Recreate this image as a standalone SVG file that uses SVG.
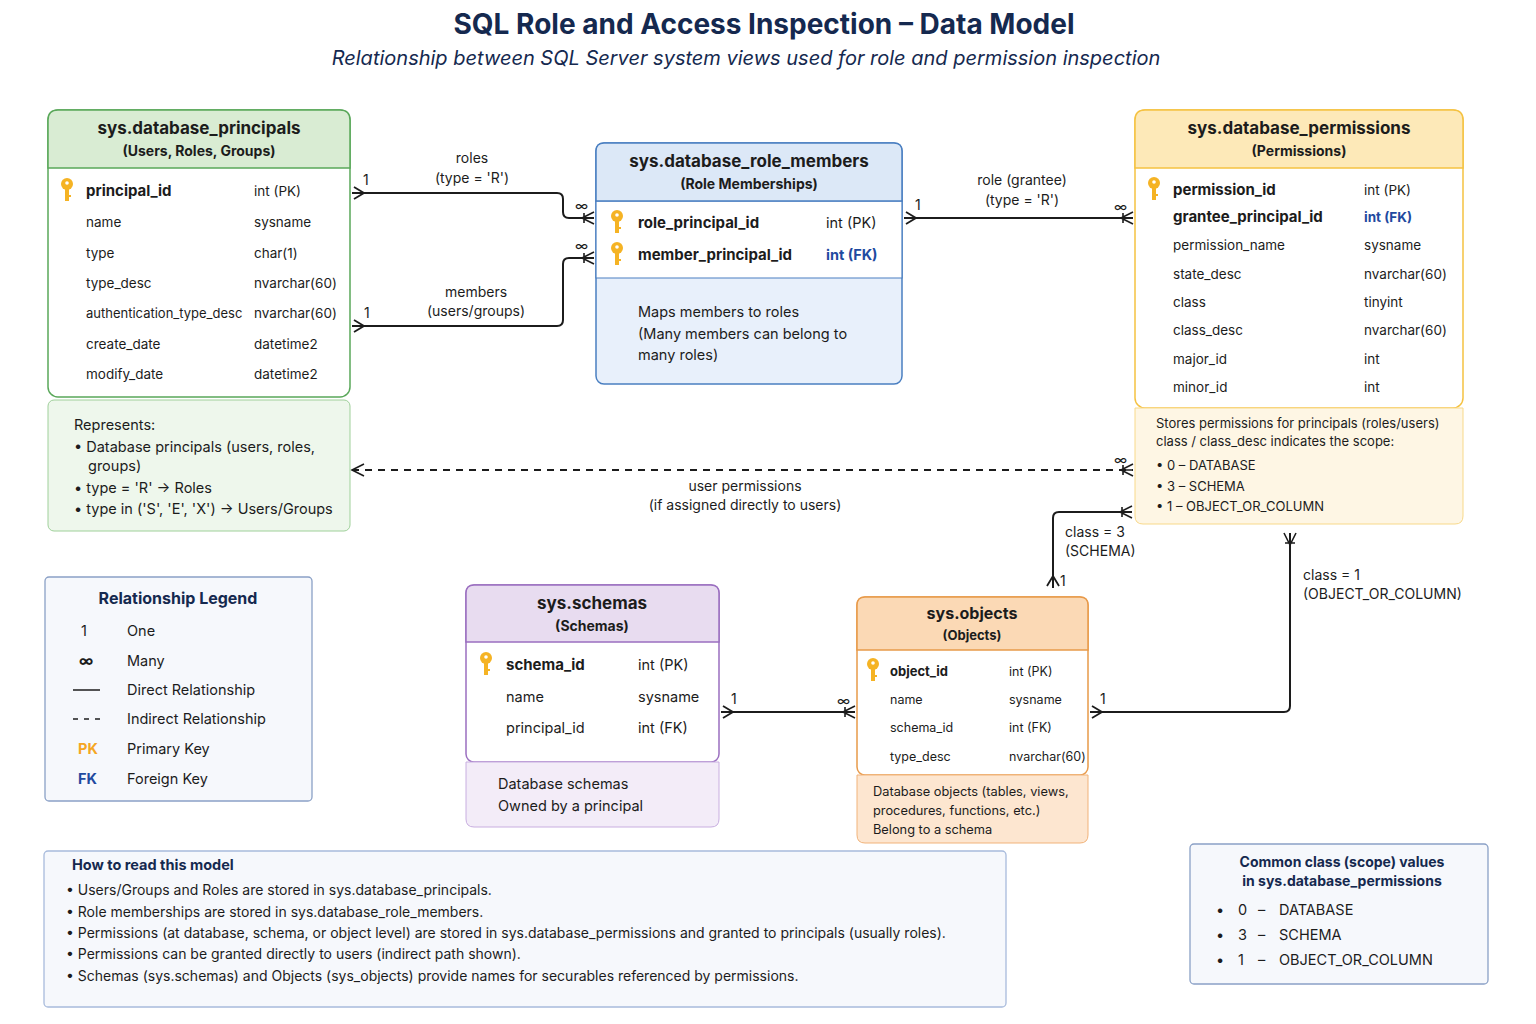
<svg xmlns="http://www.w3.org/2000/svg" xmlns:xlink="http://www.w3.org/1999/xlink" width="1536" height="1024" viewBox="0 0 1536 1024">
<style>
text{font-family:"Inter","Noto Sans","Liberation Sans",sans-serif;fill:#1c1c1c}
.t{font-size:28px;font-weight:700;fill:#15294f}
.st{font-size:20px;font-style:italic;fill:#15294f}
.h{font-size:17px;font-weight:700}
.hs{font-size:14px;font-weight:700}
.f{font-size:13.5px}
.fb{font-size:15px;font-weight:700}
.n{font-size:14.5px}
.lb{font-size:14px}
.fk{fill:#1f4aa0;font-weight:700}
.c{fill:none;stroke:#1c1c1c;stroke-width:2}
.d{fill:none;stroke:#1c1c1c;stroke-width:1.8;stroke-dasharray:7 6}
</style>
<defs>
<g id="key"><circle cx="0" cy="-5" r="6" fill="#f5b324"/><rect x="-2" y="-1" width="4" height="13" fill="#f5b324"/><rect x="0" y="6" width="4" height="2" fill="#f5b324"/><circle cx="0" cy="-6" r="1.8" fill="#fff"/></g>
<marker id="many" markerWidth="18" markerHeight="16" refX="14" refY="8" orient="auto" markerUnits="userSpaceOnUse"><path d="M2 8 L14 2 M2 8 L14 14 M2 8 H14 M4 3 V13" fill="none" stroke="#1c1c1c" stroke-width="1.6"/></marker>
<marker id="one" markerWidth="14" markerHeight="14" refX="12" refY="7" orient="auto" markerUnits="userSpaceOnUse"><path d="M2 1 L12 7 L2 13" fill="none" stroke="#1c1c1c" stroke-width="1.8"/></marker>
<marker id="fwd" markerWidth="16" markerHeight="14" refX="0" refY="7" orient="auto" markerUnits="userSpaceOnUse"><path d="M2 1 L12 7 L2 13" fill="none" stroke="#1c1c1c" stroke-width="1.8"/></marker>
</defs>
<rect width="1536" height="1024" fill="#fff"/>
<text class="t" x="764" y="34" text-anchor="middle">SQL Role and Access Inspection – Data Model</text>
<text class="st" x="746" y="65" text-anchor="middle">Relationship between SQL Server system views used for role and permission inspection</text>

<g id="connectors">
<path class="c" d="M352 193 H557 Q563 193 563 199 V212 Q563 218 569 218 H594" marker-start="url(#fwd)" marker-end="url(#many)"/>
<path class="c" d="M352 326 H557 Q563 326 563 320 V264 Q563 258 569 258 H594" marker-start="url(#fwd)" marker-end="url(#many)"/>
<path class="c" d="M904 218 H1133" marker-start="url(#fwd)" marker-end="url(#many)"/>
<path class="d" d="M352 470 H1133" marker-end="url(#many)"/>
<path d="M364 464 L352 470 L364 476" fill="none" stroke="#1c1c1c" stroke-width="1.6"/>
<path class="c" d="M1053 588 V518 Q1053 512 1059 512 H1132" marker-start="url(#fwd)" marker-end="url(#many)"/>
<path class="c" d="M721 712 H855" marker-start="url(#fwd)" marker-end="url(#many)"/>
<path class="c" d="M1090 712 H1284 Q1290 712 1290 706 V533" marker-start="url(#fwd)" marker-end="url(#many)"/>
<text class="lb" x="363" y="185">1</text><text class="lb" x="472" y="163" text-anchor="middle">roles</text><text class="lb" x="472" y="183" text-anchor="middle">(type = 'R')</text>
<text class="lb" x="575" y="211">∞</text><text class="lb" x="575" y="251">∞</text>
<text class="lb" x="364" y="318">1</text><text class="lb" x="476" y="297" text-anchor="middle">members</text><text class="lb" x="476" y="316" text-anchor="middle">(users/groups)</text>
<text class="lb" x="915" y="210">1</text><text class="lb" x="1022" y="185" text-anchor="middle">role (grantee)</text><text class="lb" x="1022" y="205" text-anchor="middle">(type = 'R')</text><text class="lb" x="1114" y="212">∞</text>
<text class="lb" x="1114" y="465">∞</text>
<text class="lb" x="745" y="491" text-anchor="middle">user permissions</text><text class="lb" x="745" y="510" text-anchor="middle">(if assigned directly to users)</text>
<text class="lb" x="1065" y="537">class = 3</text><text class="lb" x="1065" y="556">(SCHEMA)</text><text class="lb" x="1060" y="586">1</text>
<text class="lb" x="1303" y="580">class = 1</text><text class="lb" x="1303" y="599">(OBJECT_OR_COLUMN)</text>
<text class="lb" x="731" y="704">1</text><text class="lb" x="837" y="706">∞</text><text class="lb" x="1100" y="704">1</text>
</g>

<g id="principals">
<rect x="48" y="110" width="302" height="287" rx="10" fill="#fff" stroke="#5aa85a" stroke-width="1.5"/>
<path d="M48 168 V120 Q48 110 58 110 H340 Q350 110 350 120 V168 Z" fill="#d9ecd3" stroke="#5aa85a" stroke-width="1.5"/>
<text class="h" x="199" y="134" text-anchor="middle">sys.database_principals</text>
<text class="hs" x="199" y="156" text-anchor="middle">(Users, Roles, Groups)</text>
<use xlink:href="#key" x="67" y="189"/>
<text class="fb" x="86" y="196">principal_id</text><text class="f" x="254" y="196">int (PK)</text>
<text class="f" x="86" y="227">name</text><text class="f" x="254" y="227">sysname</text>
<text class="f" x="86" y="258">type</text><text class="f" x="254" y="258">char(1)</text>
<text class="f" x="86" y="288">type_desc</text><text class="f" x="254" y="288">nvarchar(60)</text>
<text class="f" x="86" y="318" style="font-size:13px">authentication_type_desc</text><text class="f" x="254" y="318">nvarchar(60)</text>
<text class="f" x="86" y="349">create_date</text><text class="f" x="254" y="349">datetime2</text>
<text class="f" x="86" y="379">modify_date</text><text class="f" x="254" y="379">datetime2</text>
<rect x="48" y="400" width="302" height="131" rx="6" fill="#eef7ec" stroke="#9fd09a"/>
<text class="n" x="74" y="430">Represents:</text>
<text class="n" x="74" y="452">•  Database principals (users, roles,</text>
<text class="n" x="88" y="471">groups)</text>
<text class="n" x="74" y="493">•  type = 'R' → Roles</text>
<text class="n" x="74" y="514">•  type in ('S', 'E', 'X') → Users/Groups</text>
</g>

<g id="role_members">
<rect x="596" y="143" width="306" height="241" rx="8" fill="#e8f0fb" stroke="#4a7fc1" stroke-width="1.5"/>
<path d="M596 278 V201 H902 V278 Z" fill="#fff" stroke="#4a7fc1" stroke-width="1.2"/>
<path d="M596 201 V151 Q596 143 604 143 H894 Q902 143 902 151 V201 Z" fill="#dce8f7" stroke="#4a7fc1" stroke-width="1.5"/>
<text class="h" x="749" y="167" text-anchor="middle">sys.database_role_members</text>
<text class="hs" x="749" y="189" text-anchor="middle">(Role Memberships)</text>
<use xlink:href="#key" x="617" y="221"/>
<text class="fb" x="638" y="228">role_principal_id</text><text class="f" x="826" y="228" style="font-size:14.5px">int (PK)</text>
<use xlink:href="#key" x="617" y="253"/>
<text class="fb" x="638" y="260">member_principal_id</text><text class="f fk" x="826" y="260" style="font-size:14.5px">int (FK)</text>
<text class="n" x="638" y="317">Maps members to roles</text>
<text class="n" x="638" y="339">(Many members can belong to</text>
<text class="n" x="638" y="360">many roles)</text>
</g>

<g id="permissions">
<rect x="1135" y="110" width="328" height="298" rx="10" fill="#fff" stroke="#f5c242" stroke-width="1.5"/>
<path d="M1135 168 V120 Q1135 110 1145 110 H1453 Q1463 110 1463 120 V168 Z" fill="#fde9b8" stroke="#f5c242" stroke-width="1.5"/>
<text class="h" x="1299" y="134" text-anchor="middle">sys.database_permissions</text>
<text class="hs" x="1299" y="156" text-anchor="middle">(Permissions)</text>
<use xlink:href="#key" x="1154" y="188"/>
<text class="fb" x="1173" y="195">permission_id</text><text class="f" x="1364" y="195">int (PK)</text>
<text class="fb" x="1173" y="222">grantee_principal_id</text><text class="f fk" x="1364" y="222">int (FK)</text>
<text class="f" x="1173" y="250">permission_name</text><text class="f" x="1364" y="250">sysname</text>
<text class="f" x="1173" y="279">state_desc</text><text class="f" x="1364" y="279">nvarchar(60)</text>
<text class="f" x="1173" y="307">class</text><text class="f" x="1364" y="307">tinyint</text>
<text class="f" x="1173" y="335">class_desc</text><text class="f" x="1364" y="335">nvarchar(60)</text>
<text class="f" x="1173" y="364">major_id</text><text class="f" x="1364" y="364">int</text>
<text class="f" x="1173" y="392">minor_id</text><text class="f" x="1364" y="392">int</text>
<path d="M1135 408 H1463 V516 Q1463 524 1455 524 H1143 Q1135 524 1135 516 Z" fill="#fef6e4" stroke="#f8d98a"/>
<text class="f" x="1156" y="428" style="font-size:13px">Stores permissions for principals (roles/users)</text>
<text class="f" x="1156" y="446" style="font-size:13px">class / class_desc indicates the scope:</text>
<text class="f" x="1156" y="470" style="font-size:13px">•  0 – DATABASE</text>
<text class="f" x="1156" y="491" style="font-size:13px">•  3 – SCHEMA</text>
<text class="f" x="1156" y="511" style="font-size:13px">•  1 – OBJECT_OR_COLUMN</text>
</g>

<g id="legend">
<rect x="45" y="577" width="267" height="224" rx="4" fill="#f6f8fc" stroke="#8aa0c6" stroke-width="1.3"/>
<text class="h" x="178" y="604" text-anchor="middle" style="font-size:16px;fill:#15294f">Relationship Legend</text>
<text class="n" x="81" y="636">1</text><text class="n" x="127" y="636">One</text>
<text class="n" x="79" y="666" style="font-weight:700">∞</text><text class="n" x="127" y="666">Many</text>
<line x1="73" y1="690" x2="100" y2="690" stroke="#1c1c1c" stroke-width="1.5"/><text class="n" x="127" y="695">Direct Relationship</text>
<line x1="73" y1="719" x2="106" y2="719" stroke="#1c1c1c" stroke-width="1.5" stroke-dasharray="5 6"/><text class="n" x="127" y="724">Indirect Relationship</text>
<text class="n" x="78" y="754" style="font-weight:700;fill:#f5a623">PK</text><text class="n" x="127" y="754">Primary Key</text>
<text class="n" x="78" y="784" style="font-weight:700;fill:#1f4aa0">FK</text><text class="n" x="127" y="784">Foreign Key</text>
</g>

<g id="schemas">
<rect x="466" y="585" width="253" height="177" rx="8" fill="#fff" stroke="#9b6fc0" stroke-width="1.5"/>
<path d="M466 642 V593 Q466 585 474 585 H711 Q719 585 719 593 V642 Z" fill="#e8dcf0" stroke="#9b6fc0" stroke-width="1.5"/>
<text class="h" x="592" y="609" text-anchor="middle">sys.schemas</text>
<text class="hs" x="592" y="631" text-anchor="middle">(Schemas)</text>
<use xlink:href="#key" x="486" y="663"/>
<text class="fb" x="506" y="670">schema_id</text><text class="f" x="638" y="670" style="font-size:14.5px">int (PK)</text>
<text class="f" x="506" y="702" style="font-size:14.5px">name</text><text class="f" x="638" y="702" style="font-size:14.5px">sysname</text>
<text class="f" x="506" y="733" style="font-size:14.5px">principal_id</text><text class="f" x="638" y="733" style="font-size:14.5px">int (FK)</text>
<path d="M466 762 H719 V819 Q719 827 711 827 H474 Q466 827 466 819 Z" fill="#f3ecf8" stroke="#c8aee0"/>
<text class="n" x="498" y="789">Database schemas</text>
<text class="n" x="498" y="811">Owned by a principal</text>
</g>

<g id="objects">
<rect x="857" y="597" width="231" height="178" rx="8" fill="#fff" stroke="#e89a4a" stroke-width="1.5"/>
<path d="M857 650 V605 Q857 597 865 597 H1080 Q1088 597 1088 605 V650 Z" fill="#fbd9b5" stroke="#e89a4a" stroke-width="1.5"/>
<text class="h" x="972" y="619" text-anchor="middle" style="font-size:16px">sys.objects</text>
<text class="hs" x="972" y="640" text-anchor="middle" style="font-size:13px">(Objects)</text>
<use xlink:href="#key" x="873" y="669"/>
<text class="fb" x="890" y="676" style="font-size:13px">object_id</text><text class="f" x="1009" y="676" style="font-size:12.5px">int (PK)</text>
<text class="f" x="890" y="704" style="font-size:12.5px">name</text><text class="f" x="1009" y="704" style="font-size:12.5px">sysname</text>
<text class="f" x="890" y="732" style="font-size:12.5px">schema_id</text><text class="f" x="1009" y="732" style="font-size:12.5px">int (FK)</text>
<text class="f" x="890" y="761" style="font-size:12.5px">type_desc</text><text class="f" x="1009" y="761" style="font-size:12.5px">nvarchar(60)</text>
<path d="M857 775 H1088 V835 Q1088 843 1080 843 H865 Q857 843 857 835 Z" fill="#fde6d0" stroke="#f1b37a"/>
<text class="f" x="873" y="796" style="font-size:12.8px">Database objects (tables, views,</text>
<text class="f" x="873" y="815" style="font-size:12.8px">procedures, functions, etc.)</text>
<text class="f" x="873" y="834" style="font-size:12.8px">Belong to a schema</text>
</g>

<g id="howto">
<rect x="44" y="851" width="962" height="156" rx="4" fill="#f6f8fc" stroke="#a8bbdc" stroke-width="1.3"/>
<text class="hs" x="72" y="870" style="font-size:14.5px;fill:#15294f">How to read this model</text>
<text class="n" x="66" y="895" style="font-size:14px">•  Users/Groups and Roles are stored in sys.database_principals.</text>
<text class="n" x="66" y="917" style="font-size:14px">•  Role memberships are stored in sys.database_role_members.</text>
<text class="n" x="66" y="938" style="font-size:14px">•  Permissions (at database, schema, or object level) are stored in sys.database_permissions and granted to principals (usually roles).</text>
<text class="n" x="66" y="959" style="font-size:14px">•  Permissions can be granted directly to users (indirect path shown).</text>
<text class="n" x="66" y="981" style="font-size:14px">•  Schemas (sys.schemas) and Objects (sys_objects) provide names for securables referenced by permissions.</text>
</g>

<g id="common">
<rect x="1190" y="844" width="298" height="140" rx="4" fill="#f6f8fc" stroke="#8aa0c6" stroke-width="1.3"/>
<text class="hs" x="1342" y="867" text-anchor="middle" style="fill:#15294f">Common class (scope) values</text>
<text class="hs" x="1342" y="886" text-anchor="middle" style="fill:#15294f">in sys.database_permissions</text>
<text class="n" x="1216" y="915">•</text><text class="n" x="1238" y="915">0</text><text class="n" x="1258" y="915">–</text><text class="n" x="1279" y="915">DATABASE</text>
<text class="n" x="1216" y="940">•</text><text class="n" x="1238" y="940">3</text><text class="n" x="1258" y="940">–</text><text class="n" x="1279" y="940">SCHEMA</text>
<text class="n" x="1216" y="965">•</text><text class="n" x="1238" y="965">1</text><text class="n" x="1258" y="965">–</text><text class="n" x="1279" y="965">OBJECT_OR_COLUMN</text>
</g>
</svg>
